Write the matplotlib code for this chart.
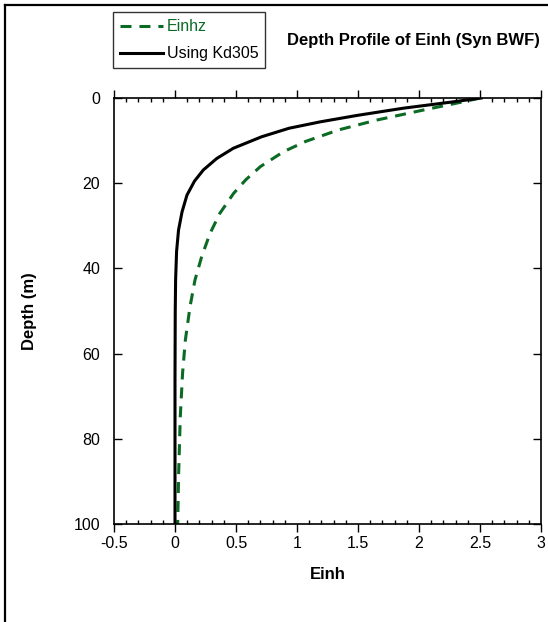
import matplotlib.pyplot as plt
from matplotlib.lines import Line2D
from matplotlib.ticker import MultipleLocator, FixedLocator

plt.rcParams['font.family'] = ['Liberation Sans', 'DejaVu Sans']

# Depth profile data
depth_kd = [0, 0.9, 2.4, 4.1, 5.6, 7.1, 9.1, 11.8, 14.2, 16.9, 19.5, 22.8, 26.7,
            31, 36, 42.7, 50, 66, 80, 100]
einh_kd = [2.51, 2.28, 1.87, 1.49, 1.19, 0.935, 0.71, 0.478, 0.342, 0.232, 0.16, 0.098, 0.058,
           0.029, 0.013, 0.005, 0.002, 0.0, 0.0, 0.0]

depth_hz = [0, 0.9, 2.8, 5.2, 7.5, 10.2, 12.6, 16.1, 19.2, 22.4, 27.1, 31.8, 37.2,
            42.7, 49, 56.8, 64.6, 75, 88, 100]
einh_hz = [2.50, 2.36, 2.04, 1.65, 1.34, 1.07, 0.89, 0.70, 0.58, 0.48, 0.367, 0.287, 0.219,
           0.164, 0.123, 0.085, 0.062, 0.043, 0.03, 0.022]

x_ticks = [-0.5, 0, 0.5, 1, 1.5, 2, 2.5, 3]
x_tick_labels = ['-0.5', '0', '0.5', '1', '1.5', '2', '2.5', '3']
y_ticks = [0, 20, 40, 60, 80, 100]

green = '#0b6a23'

fig = plt.figure(figsize=(5.48, 6.22), dpi=100)
ax = fig.add_axes([114 / 548, 1 - 524 / 622, 427 / 548, 426 / 622])

hz_line, = ax.plot(einh_hz, depth_hz, color=green, lw=2.2, ls=(0, (3.6, 2.6)), label='Einhz')
kd_line, = ax.plot(einh_kd, depth_kd, color='black', lw=2.2, label='Using Kd305')

ax.set_xlim(-0.5, 3)
ax.set_ylim(100, 0)
ax.xaxis.set_major_locator(FixedLocator(x_ticks))
ax.set_xticklabels(x_tick_labels)
ax.xaxis.set_minor_locator(MultipleLocator(0.1))
ax.yaxis.set_major_locator(FixedLocator(y_ticks))
ax.yaxis.set_minor_locator(MultipleLocator(5))

ax.tick_params(axis='x', which='major', direction='out', length=6, width=1,
               top=True, bottom=True, labelsize=11.5, pad=3)
ax.tick_params(axis='x', which='minor', direction='in', length=3, width=1,
               top=True, bottom=True)
ax.tick_params(axis='y', which='major', direction='in', length=6, width=1,
               left=True, right=True, labelsize=11.5, pad=10)
ax.tick_params(axis='y', which='minor', direction='in', length=0,
               left=False, right=False)
for s in ax.spines.values():
    s.set_linewidth(1.2)

ax.set_xlabel('Einh', fontsize=12, fontweight='bold', labelpad=11)
ax.set_ylabel('Depth (m)', fontsize=12, fontweight='bold', labelpad=26)

fig.text(413 / 548, 1 - 40 / 622, 'Depth Profile of Einh (Syn BWF)',
         fontsize=12, fontweight='bold', ha='center', va='center')

leg = fig.legend(handles=[hz_line, kd_line], loc='upper left',
                 bbox_to_anchor=(113 / 548, 1 - 12 / 622), fontsize=11.5,
                 frameon=True, fancybox=False, handlelength=2.7,
                 handletextpad=0.2, borderpad=0.45, labelspacing=0.75,
                 borderaxespad=0)
leg.get_frame().set_edgecolor('black')
leg.get_frame().set_linewidth(1.0)
leg.get_texts()[0].set_color(green)

# partial outer border (top and left)
fig.add_artist(Line2D([5 / 548, 1], [1 - 5 / 622, 1 - 5 / 622], color='black', lw=1.6))
fig.add_artist(Line2D([5 / 548, 5 / 548], [0, 1 - 5 / 622], color='black', lw=1.6))

fig.savefig('out.png', dpi=100)
